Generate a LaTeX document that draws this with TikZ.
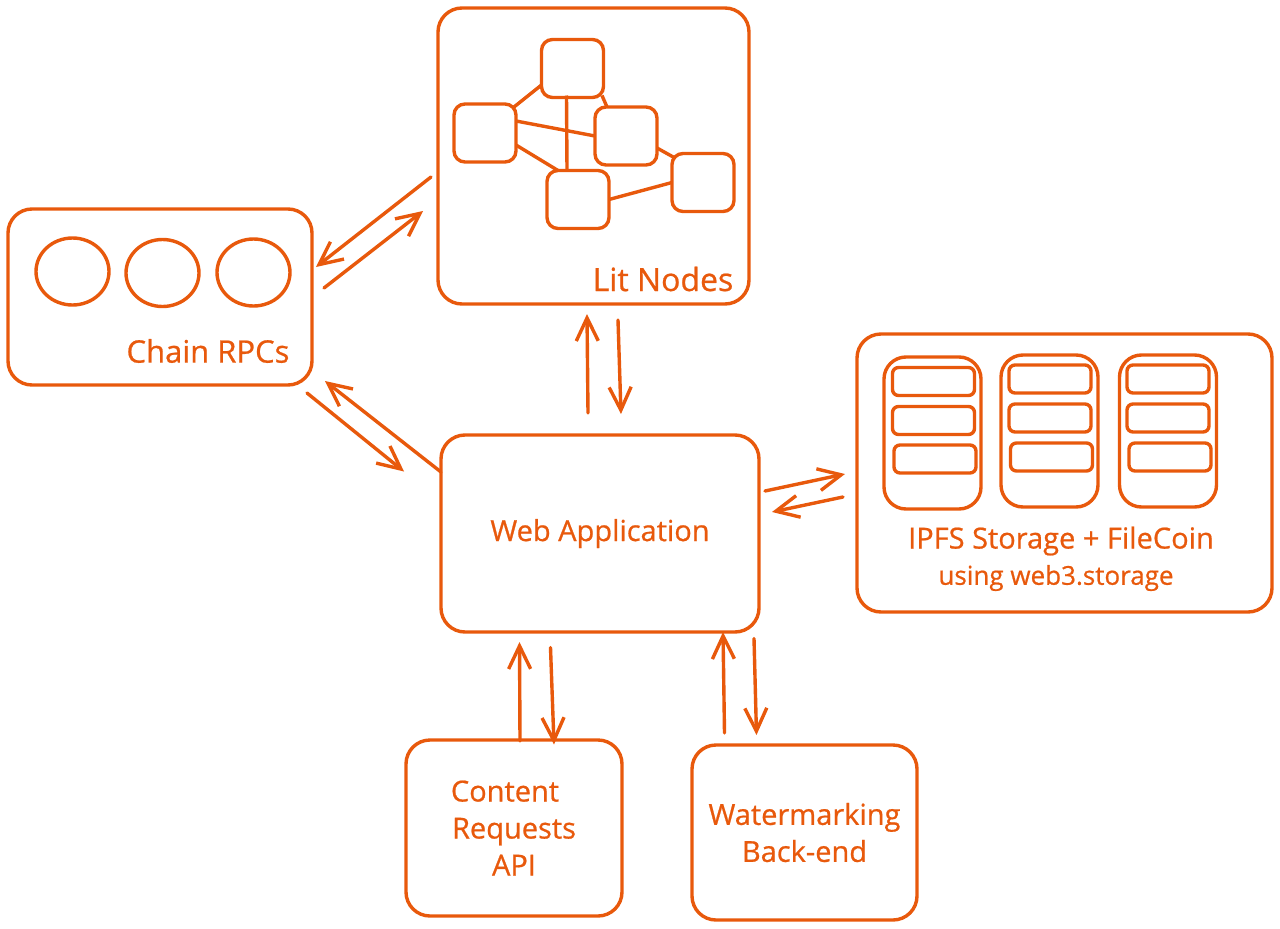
\documentclass[tikz,border=0pt]{standalone}
\usepackage{fontspec}
\setmainfont[RawFeature={embolden=0.7}]{Open Sans}
\usetikzlibrary{arrows.meta,shapes.geometric}
\definecolor{sketch}{HTML}{E8590C}
\tikzset{
    bigbox/.style={draw=sketch, line width=3.4pt, rounded corners=24pt, inner sep=0pt, outer sep=0pt, align=center, text=sketch, font=\fontsize{29}{37}\selectfont},
    litnode/.style={draw=sketch, line width=3.4pt, rounded corners=11pt, inner sep=0pt, outer sep=0pt, minimum width=62pt, minimum height=58pt},
    rpcdot/.style={draw=sketch, line width=3.4pt, ellipse, inner sep=0pt, outer sep=0pt, minimum width=73pt, minimum height=67pt},
    shelf/.style={draw=sketch, line width=3.4pt, rounded corners=22pt, inner sep=0pt, outer sep=0pt, minimum width=97pt, minimum height=152pt},
    slot/.style={draw=sketch, line width=3.4pt, rounded corners=6pt, inner sep=0pt, outer sep=0pt, minimum width=82pt, minimum height=28pt},
    caption/.style={text=sketch, inner sep=0pt, align=center, font=\fontsize{29}{37}\selectfont},
    flow/.style={draw=sketch, line width=3.4pt, line cap=round, -{Straight Barb[length=23pt,width=22pt,line width=3.4pt]}},
    link/.style={draw=sketch, line width=3.4pt}
}
\begin{document}
\begin{tikzpicture}[x=1pt,y=-1pt]
    \useasboundingbox (0,0) rectangle (1280,929);
    % outer boxes
    \node[bigbox, minimum width=311pt, minimum height=296pt] (lit) at (593.5,156) {};
    \node[bigbox, minimum width=304pt, minimum height=176pt] (rpc) at (160,297) {};
    \node[bigbox, minimum width=318pt, minimum height=197pt] (web) at (600,533.5) {\raisebox{-4pt}{Web Application}};
    \node[bigbox, minimum width=415pt, minimum height=278pt] (storage) at (1064.5,473) {};
    \node[bigbox, minimum width=216pt, minimum height=176pt] (content) at (514,828) {\hspace*{-18pt}Content\\Requests\\API};
    \node[bigbox, minimum width=225pt, minimum height=175pt] (water) at (804.5,832.5) {Watermarking\\Back-end};
    % captions
    \node[caption, font=\fontsize{32}{37}\selectfont] (litcap) at (663,279) {Lit Nodes};
    \node[caption, font=\fontsize{31}{37}\selectfont] (rpccap) at (208,351) {Chain RPCs};
    \node[caption] (storecap) at (1061,541) {IPFS Storage + FileCoin};
    \node[caption, font=\fontsize{26}{37}\selectfont] (webthree) at (1056,578) {using web3.storage};
    % lit nodes
    \node[litnode] (littop) at (572.5,68.5) {};
    \node[litnode] (litleft) at (485,133) {};
    \node[litnode] (litmid) at (626,136) {};
    \node[litnode] (litbot) at (578,199.5) {};
    \node[litnode] (litright) at (703,182.5) {};
    % lines between the lit nodes
    \draw[link] ([shift={(0,16.5)}]littop.west) -- ([shift={(-2,-26)}]litleft.east);
    \draw[link] ([shift={(29.5,-2)}]littop.south) -- ([shift={(-19,0)}]litmid.north);
    \draw[link] ([shift={(0,-12)}]litleft.east) -- (litmid.west);
    \draw[link] ([shift={(0,12)}]litleft.east) -- ([shift={(-20,0)}]litbot.north);
    \draw[link] ([shift={(-6,-2)}]littop.south) -- ([shift={(-11,0)}]litbot.north);
    \draw[link] ([shift={(0,12)}]litmid.east) -- ([shift={(3,-24.5)}]litright.west);
    \draw[link] (litbot.east) -- (litright.west);
    % rpc circles
    \node[rpcdot] (rpcone) at (72.5,271.5) {};
    \node[rpcdot] (rpctwo) at (162.5,273) {};
    \node[rpcdot] (rpcthree) at (253.5,272.5) {};
    % storage shelves
    \node[shelf] (shelfone) at (932.5,433) {};
    \node[shelf] (shelftwo) at (1049.5,431) {};
    \node[shelf] (shelfthree) at (1168,431) {};
    \foreach \slotname/\x/\y in {a/933.5/381.5, b/933.5/420.5, c/935/459,
                                 d/1050/379, e/1050/418, f/1051.5/457,
                                 g/1168/379, h/1168/418, i/1170/457} {
        \node[slot] (slot\slotname) at (\x,\y) {};
    }
    % arrows between the boxes
    \draw[flow] ([shift={(-7,21)}]lit.west) -- ([shift={(4,-30)}]rpc.east);
    \draw[flow] ([shift={(12,-9)}]rpc.east) -- ([shift={(-15,55)}]lit.west);
    \draw[flow] ([shift={(0,-61.5)}]web.west) -- ([shift={(13,-4)}]rpc.south east);
    \draw[flow] ([shift={(-5,8)}]rpc.south east) -- ([shift={(-37,-62)}]web.west);
    \draw[flow] ([shift={(-12,-22)}]web.north) -- ([shift={(-6.5,10)}]lit.south);
    \draw[flow] ([shift={(24.5,16)}]lit.south) -- ([shift={(21,-21)}]web.north);
    \draw[flow] ([shift={(6,-42.5)}]web.east) -- ([shift={(-12,1)}]storage.west);
    \draw[flow] ([shift={(-14,24)}]storage.west) -- ([shift={(13,-21.5)}]web.east);
    \draw[flow] ([shift={(6,1)}]content.north) -- ([shift={(-80.5,10)}]web.south);
    \draw[flow] ([shift={(-49.5,15.5)}]web.south) -- ([shift={(40,4.5)}]content.north);
    \draw[flow] ([shift={(-80,-12)}]water.north) -- ([shift={(123,0)}]web.south);
    \draw[flow] ([shift={(154,6.5)}]web.south) -- ([shift={(-48,-10)}]water.north);
\end{tikzpicture}
\end{document}
